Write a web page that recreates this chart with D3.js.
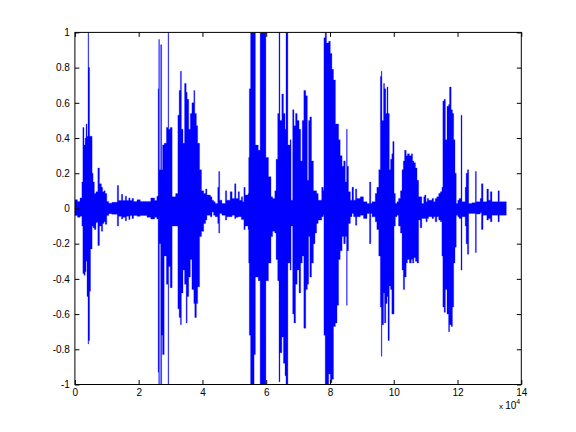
<!DOCTYPE html>
<html>
<head>
<meta charset="utf-8">
<script src="https://cdn.jsdelivr.net/npm/d3@7"></script>
<style>
  body { margin: 0; background: #fff; }
  text { font-family: "Liberation Sans", Arial, Helvetica, sans-serif; }
</style>
</head>
<body>
<svg id="chart" width="576" height="432"></svg>
<script>
// tick values
const xTicks = [0, 2, 4, 6, 8, 10, 12, 14];
const yTicks = [-1, -0.8, -0.6, -0.4, -0.2, 0, 0.2, 0.4, 0.6, 0.8, 1];

// waveform envelope: sample position (x 10^4), max and min per column
const waveX = [
  0.00, 0.08, 0.16, 0.22, 0.25, 0.285, 0.32, 0.35, 0.38, 0.41, 0.43, 0.46, 0.49, 0.54, 0.57, 0.61, 0.66,
  0.72, 0.77, 0.83, 0.87, 0.91, 0.95, 1.00, 1.06, 1.16, 1.33, 1.37, 1.46, 1.50, 1.58, 1.62, 1.69, 1.73,
  1.79, 1.84, 1.95, 2.05,
  2.26, 2.38, 2.50, 2.57, 2.61, 2.63, 2.65, 2.69, 2.72, 2.75, 2.80, 2.87, 2.92, 2.94, 2.99, 3.05, 3.16,
  3.23, 3.27, 3.31, 3.34, 3.39, 3.44, 3.49, 3.52, 3.57, 3.62, 3.67, 3.73, 3.76, 3.81, 3.85, 3.91, 3.97,
  4.04, 4.10, 4.14, 4.25, 4.30, 4.35, 4.40, 4.48, 4.51, 4.54,
  4.61, 4.72, 4.76, 4.87, 4.93, 5.01, 5.05, 5.12, 5.16, 5.22, 5.26, 5.30, 5.34, 5.43, 5.45, 5.47,
  5.51, 5.62, 5.66, 5.75, 5.81, 5.99, 6.07, 6.15, 6.20, 6.27, 6.31, 6.36, 6.40, 6.43, 6.49, 6.54,
  6.59, 6.62, 6.68, 6.75, 6.78, 6.83, 6.87, 6.92, 6.97, 7.03, 7.08, 7.13, 7.18, 7.24, 7.29, 7.33,
  7.37, 7.42, 7.48, 7.53, 7.58, 7.63, 7.74, 7.79, 7.81, 7.85, 7.89, 7.96, 8.01, 8.06, 8.11, 8.17,
  8.22, 8.27, 8.32, 8.38, 8.43, 8.48, 8.52, 8.54, 8.58, 8.64, 8.69, 8.74, 8.80, 8.84, 8.95, 9.05,
  9.16, 9.24, 9.28,
  9.32, 9.42, 9.47, 9.53, 9.58, 9.61, 9.63, 9.68, 9.71, 9.75, 9.79, 9.82, 9.86, 9.90, 9.94, 9.97,
  10.01, 10.05, 10.10, 10.15, 10.21, 10.26, 10.30, 10.34, 10.39, 10.43, 10.49, 10.55, 10.59, 10.63,
  10.68, 10.73, 10.78, 10.83, 10.88, 10.94, 10.97, 11.01, 11.05, 11.09, 11.20, 11.25, 11.30, 11.35,
  11.41, 11.46, 11.51, 11.54, 11.58, 11.62,
  11.67, 11.72, 11.75, 11.80, 11.84, 11.88, 11.92, 11.96, 12.01, 12.05, 12.11, 12.14, 12.24, 12.27,
  12.31, 12.35, 12.45, 12.56, 12.59, 12.71, 12.75, 12.80, 12.92, 12.97, 13.03, 13.08, 13.24, 13.27,
  13.31
];
const waveMax = [
  0.05, 0.04, 0.06, 0.15, 0.46, 0.36, 0.40, 0.48, 0.41, 1.0, 0.80, 0.41, 0.41, 0.20, 0.15, 0.085, 0.095,
  0.23, 0.14, 0.12, 0.095, 0.10, 0.085, 0.04, 0.03, 0.035, 0.13, 0.045, 0.08, 0.045, 0.07, 0.045, 0.06, 0.045,
  0.057, 0.04, 0.05, 0.04,
  0.04, 0.06, 0.045, 0.07, 0.68, 0.96, 0.22, 0.93, 0.22, 0.36, 0.37, 0.46, 1.0, 0.45, 0.46, 0.066, 0.085,
  0.53, 0.67, 0.78, 0.45, 0.37, 0.71, 0.66, 0.62, 0.45, 0.54, 0.60, 0.67, 0.54, 0.47, 0.37, 0.22, 0.10,
  0.085, 0.11, 0.076, 0.066, 0.047, 0.038, 0.028, 0.12, 0.21, 0.047,
  0.028, 0.10, 0.047, 0.095, 0.057, 0.14, 0.057, 0.095, 0.047, 0.066, 0.038, 0.12, 0.076, 0.085, 0.29, 0.68,
  1.0, 1.0, 0.36, 0.33, 1.0, 0.29, 0.18, 0.066, 0.057, 0.10, 0.28, 0.54, 1.0, 0.50, 0.65, 0.54,
  0.45, 1.0, 0.36, 0.39, 0.047, 0.56, 0.47, 0.54, 0.50, 0.45, 0.27, 0.50, 0.67, 0.64, 0.16, 0.50,
  0.52, 0.27, 0.10, 0.10, 0.085, 0.047, 0.12, 0.10, 0.97, 1.0, 0.94, 0.95, 0.88, 0.79, 0.73, 0.48,
  0.48, 0.39, 0.30, 0.24, 0.27, 0.15, 0.45, 0.24, 0.095, 0.047, 0.12, 0.047, 0.11, 0.057, 0.066, 0.038,
  0.028, 0.15, 0.028,
  0.038, 0.085, 0.12, 0.22, 0.75, 0.78, 0.50, 0.71, 0.68, 0.54, 0.69, 0.54, 0.22, 0.28, 0.31, 0.38,
  0.085, 0.028, 0.038, 0.057, 0.10, 0.22, 0.27, 0.33, 0.30, 0.31, 0.30, 0.31, 0.27, 0.26,
  0.23, 0.16, 0.066, 0.066, 0.028, 0.066, 0.076, 0.038, 0.057, 0.047, 0.057, 0.038, 0.057, 0.066,
  0.085, 0.095, 0.12, 0.61, 0.62, 0.39,
  0.58, 0.59, 0.69, 0.56, 0.54, 0.39, 0.20, 0.028, 0.047, 0.057, 0.53, 0.038, 0.12, 0.20,
  0.22, 0.028, 0.032, 0.21, 0.038, 0.057, 0.14, 0.038, 0.11, 0.047, 0.095, 0.038, 0.038, 0.10,
  0.038
];
const waveMin = [
  -0.04, -0.05, -0.045, -0.10, -0.37, -0.38, -0.36, -0.30, -0.50, -0.77, -0.75, -0.47, -0.23, -0.10, -0.11, -0.12, -0.08,
  -0.21, -0.10, -0.13, -0.085, -0.075, -0.09, -0.04, -0.03, -0.033, -0.10, -0.045, -0.06, -0.05, -0.07, -0.045, -0.063, -0.04,
  -0.057, -0.04, -0.045, -0.04,
  -0.05, -0.06, -0.05, -0.06, -0.93, -1.0, -0.20, -1.0, -0.72, -0.83, -0.27, -0.43, -1.0, -0.33, -0.45, -0.10, -0.10,
  -0.57, -0.62, -0.66, -0.48, -0.35, -0.43, -0.65, -0.50, -0.39, -0.29, -0.46, -0.54, -0.62, -0.54, -0.445, -0.16, -0.13,
  -0.085, -0.066, -0.038, -0.047, -0.02, -0.038, -0.047, -0.085, -0.14, -0.028,
  -0.038, -0.066, -0.047, -0.047, -0.038, -0.057, -0.05, -0.047, -0.047, -0.063, -0.063, -0.12, -0.10, -0.12, -0.31, -0.72,
  -1.0, -0.83, -0.39, -0.41, -1.0, -0.41, -0.31, -0.16, -0.13, -0.14, -0.29, -0.41, -0.985, -0.82, -0.73, -0.88,
  -0.95, -1.0, -0.31, -0.35, -0.10, -0.60, -0.65, -0.43, -0.35, -0.48, -0.31, -0.27, -0.68, -0.46, -0.43, -0.16,
  -0.39, -0.31, -0.20, -0.14, -0.085, -0.066, -0.047, -0.038, -0.72, -1.0, -1.0, -0.94, -0.99, -0.97, -0.67, -0.65,
  -0.55, -0.29, -0.24, -0.16, -0.20, -0.16, -0.55, -0.24, -0.085, -0.047, -0.028, -0.047, -0.095, -0.047, -0.038, -0.057,
  -0.028, -0.20, -0.028,
  -0.047, -0.076, -0.12, -0.27, -0.56, -0.84, -0.66, -0.48, -0.65, -0.54, -0.50, -0.75, -0.44, -0.46, -0.60, -0.60,
  -0.10, -0.047, -0.038, -0.10, -0.14, -0.35, -0.46, -0.39, -0.31, -0.29, -0.31, -0.29, -0.31, -0.28,
  -0.30, -0.31, -0.066, -0.11, -0.057, -0.057, -0.057, -0.076, -0.057, -0.047, -0.057, -0.047, -0.076, -0.047,
  -0.066, -0.076, -0.27, -0.56, -0.59, -0.46,
  -0.60, -0.70, -0.66, -0.67, -0.56, -0.31, -0.22, -0.038, -0.047, -0.057, -0.35, -0.047, -0.10, -0.20,
  -0.26, -0.028, -0.028, -0.25, -0.032, -0.025, -0.12, -0.038, -0.066, -0.057, -0.076, -0.038, -0.038, -0.076,
  -0.038
];
const waveEnd = 13.53;

// axes box, same place as a default matlab figure
const margin = { left: 74.9, top: 32.4 };
const width = 446.4;
const height = 352.1;

const svg = d3.select('#chart');
const g = svg.append('g')
    .attr('transform', `translate(${margin.left}, ${margin.top})`);

const xscale = d3.scaleLinear().domain([0, 14]).range([0, width]);
const yscale = d3.scaleLinear().domain([-1, 1]).range([height, 0]);

svg.append('defs').append('clipPath')
    .attr('id', 'plotClip')
    .append('rect')
    .attr('width', width)
    .attr('height', height);

let data = waveX.map((d, i) => ({ x: d, hi: waveMax[i], lo: waveMin[i] }));
data.push({ x: waveEnd, hi: waveMax[waveMax.length - 1], lo: waveMin[waveMin.length - 1] });

const area = d3.area()
    .x(d => xscale(d.x))
    .y0(d => yscale(d.lo))
    .y1(d => yscale(d.hi))
    .curve(d3.curveStepAfter);

g.append('path')
    .datum(data)
    .attr('clip-path', 'url(#plotClip)')
    .attr('d', area)
    .attr('fill', '#0000ff')
    .attr('stroke', '#0000ff')
    .attr('stroke-width', 0.3);

const fmt = d => String(d);

let xaxis = d3.axisBottom(xscale).tickValues(xTicks).tickSizeInner(-4.5).tickSizeOuter(0).tickPadding(4).tickFormat(fmt);
let yaxis = d3.axisLeft(yscale).tickValues(yTicks).tickSizeInner(-4.5).tickSizeOuter(0).tickPadding(5).tickFormat(fmt);
let xaxisTop = d3.axisTop(xscale).tickValues(xTicks).tickSizeInner(-4.5).tickSizeOuter(0).tickFormat('');
let yaxisRight = d3.axisRight(yscale).tickValues(yTicks).tickSizeInner(-4.5).tickSizeOuter(0).tickFormat('');

g.append('g').attr('transform', `translate(0, ${height})`).call(xaxis);
g.append('g').call(yaxis);
g.append('g').call(xaxisTop);
g.append('g').attr('transform', `translate(${width}, 0)`).call(yaxisRight);

g.selectAll('.domain').remove();
g.selectAll('.tick line').attr('stroke', '#000');
g.selectAll('.tick text').attr('fill', '#000').attr('font-size', 10);

g.append('rect')
    .attr('width', width)
    .attr('height', height)
    .attr('fill', 'none')
    .attr('stroke', '#000')
    .attr('stroke-width', 1);

// exponent label under the x axis
const expo = svg.append('text')
    .attr('x', 499)
    .attr('y', 409)
    .attr('font-size', 10)
    .attr('fill', '#000');
expo.append('tspan').attr('font-size', 8).text('x ');
expo.append('tspan').text('10');
expo.append('tspan').attr('font-size', 7).attr('dy', -5).text('4');
</script>
</body>
</html>
